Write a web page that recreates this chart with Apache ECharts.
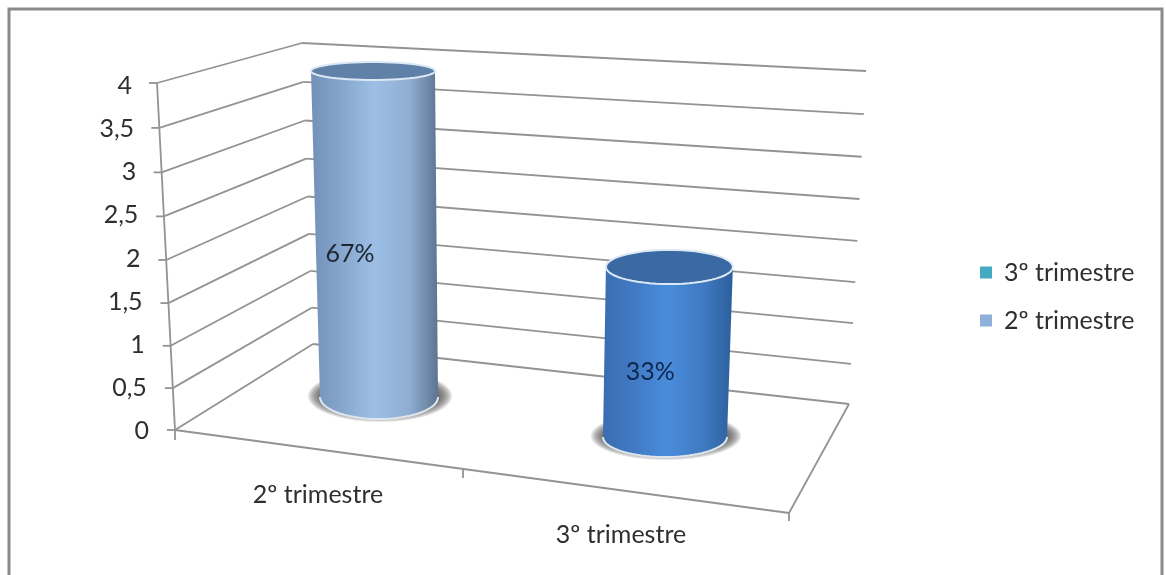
<!DOCTYPE html>
<html>
<head>
<meta charset="utf-8">
<style>html,body{margin:0;padding:0;background:#fff}#c{width:1166px;height:575px}</style>
<script src="https://cdn.jsdelivr.net/npm/echarts@6/dist/echarts.min.js"></script>
</head>
<body>
<div id="c"></div>
<script>
const categories = ['2º trimestre', '3º trimestre'];
const values = [4, 2];
const percentLabels = ['67%', '33%'];
const yTicks = [0, 0.5, 1, 1.5, 2, 2.5, 3, 3.5, 4];
const yTickLabels = ['0', '0,5', '1', '1,5', '2', '2,5', '3', '3,5', '4'];
const legendNames = ['3º trimestre', '2º trimestre'];

const FONT = 'Lato, "Open Sans", sans-serif';
const FONT_SIZE = 25;
const GRID_TOP = 83, GRID_BOTTOM = 430;
const LINE = '#939393';
const LEFT = [[175, 430], [157, 83]];
const BACK = [[313, 344], [302, 43]];
const RIGHT = [[849, 404], [866, 71]];
const FRONT_END = [789, 513];
const XTICKS = [[175, 430, 175, 440], [463, 470, 463, 478], [789, 513, 789, 521]];
const XLABEL_POS = [[318, 495], [621, 535]];
const CYL = [
  { base: [379, 397, 59, 22], top: [373, 71, 62, 9], labelDx: -26, labelDy: 20,
    stops: ['#7391b8', '#84a4cb', '#9dbfe6', '#8fadd0', '#5c7492'], cap: '#5f81a8' },
  { base: [665, 437, 62, 20], top: [674, 90, 65, 14], labelDx: -17, labelDy: 20,
    stops: ['#3a6db0', '#4179c2', '#4a8cdc', '#3f79c0', '#2c5f9c'], cap: '#3a69a4' }
];

// slight perspective along the value axis
function warp(t) { const k = -0.039; return t * (1 + k) / (1 + k * t); }
function mix(a, b, t) { return a + (b - a) * t; }
function along(seg, t) { return [mix(seg[0][0], seg[1][0], t), mix(seg[0][1], seg[1][1], t)]; }
function frac(api, cat, v) {
  const py = api.coord([cat, v])[1];
  return warp((GRID_BOTTOM - py) / (GRID_BOTTOM - GRID_TOP));
}
function seg(a, b) {
  return { type: 'line', shape: { x1: a[0], y1: a[1], x2: b[0], y2: b[1] },
    style: { stroke: LINE, lineWidth: 1.8 } };
}
function txt(x, y, s, align, color) {
  return { type: 'text', x: x, y: y,
    style: { text: s, fill: color || '#2f2f2f', font: FONT_SIZE + 'px ' + FONT, align: align, verticalAlign: 'middle' } };
}
function arc(cx, cy, rx, ry, a0, a1, n) {
  const pts = [];
  for (let i = 0; i <= n; i++) {
    const a = mix(a0, a1, i / n);
    pts.push([cx + rx * Math.cos(a), cy + ry * Math.sin(a)]);
  }
  return pts;
}

function renderWall(params, api) {
  const v = api.value(1), idx = params.dataIndex, t = frac(api, 0, v);
  const L = along(LEFT, t), B = along(BACK, t), R = along(RIGHT, t);
  const kids = [seg([L[0] - 8, L[1]], L), seg(L, B), seg(B, R)];
  // label positions follow the slanted axis
  kids.push(txt(mix(149, 132, v / 4), mix(431, 86, v / 4), yTickLabels[idx], 'right'));
  if (v === 0) {
    kids.push(seg(LEFT[0], FRONT_END), seg(RIGHT[0], FRONT_END), seg(LEFT[0], LEFT[1]));
    XTICKS.forEach(s => kids.push(seg([s[0], s[1]], [s[2], s[3]])));
  }
  return { type: 'group', children: kids };
}

function renderCategory(params, api) {
  const i = api.value(0), p = XLABEL_POS[i];
  return txt(p[0], p[1], categories[i], 'center');
}

function renderCylinder(params, api) {
  const i = api.value(0), v = api.value(1), c = CYL[i], t = frac(api, i, v);
  const b = c.base;
  const top = [0, 1, 2, 3].map(k => mix(b[k], c.top[k], t));
  const lower = arc(b[0], b[1], b[2], b[3], 0, Math.PI, 40);
  const upper = arc(top[0], top[1], top[2], top[3], Math.PI, 2 * Math.PI, 40);
  const grad = new echarts.graphic.LinearGradient(0, 0, 1, 0,
    [0, 0.22, 0.5, 0.78, 1].map((o, k) => ({ offset: o, color: c.stops[k] })));
  const shadow = [];
  for (let s = 0; s < 9; s++) {
    shadow.push({ type: 'polygon',
      shape: { points: arc(b[0] + 1, b[1] - 1, b[2] + 13 - s * 1.5, b[3] + 4 - s, 0, 2 * Math.PI, 60) },
      style: { fill: 'rgba(70,70,70,0.14)' } });
  }
  return {
    type: 'group',
    children: shadow.concat([
      { type: 'polygon', shape: { points: upper.concat(lower) }, style: { fill: grad } },
      { type: 'polyline', shape: { points: lower }, style: { stroke: '#dfe5ec', lineWidth: 2, fill: null } },
      { type: 'polygon', shape: { points: arc(top[0], top[1], top[2], top[3], 0, 2 * Math.PI, 60) },
        style: { fill: c.cap, stroke: '#dce8f4', lineWidth: 2 } },
      txt((top[0] + b[0]) / 2 + c.labelDx, (top[1] + b[1]) / 2 + c.labelDy, percentLabels[i], 'center',
        i === 0 ? '#1d2733' : '#10284d')
    ])
  };
}

const chart = echarts.init(document.getElementById('c'), null, { renderer: 'canvas' });
chart.setOption({
  animation: false,
  backgroundColor: '#ffffff',
  grid: { left: 175, right: 300, top: GRID_TOP, height: GRID_BOTTOM - GRID_TOP, containLabel: false },
  xAxis: { type: 'category', data: categories, show: false },
  yAxis: { type: 'value', min: 0, max: 4, interval: 0.5, show: false },
  legend: {
    orient: 'vertical', left: 975, top: 255, itemGap: 23, itemWidth: 12, itemHeight: 12,
    icon: 'rect', selectedMode: false, data: legendNames,
    textStyle: { fontFamily: FONT, fontSize: FONT_SIZE, color: '#2f2f2f', padding: [0, 0, 0, 7] }
  },
  graphic: [{
    type: 'rect', z: -10, shape: { x: 9, y: 9, width: 1153, height: 600 },
    style: { fill: '#ffffff', stroke: '#8a8a8a', lineWidth: 3 }, silent: true
  }],
  series: [
    { type: 'custom', name: 'paredes', renderItem: renderWall, silent: true, z: 1,
      encode: { x: 0, y: 1 }, data: yTicks.map(v => [0, v]) },
    { type: 'custom', name: 'categorias', renderItem: renderCategory, silent: true, z: 1,
      encode: { x: 0, y: 1 }, data: categories.map((c, i) => [i, 0]) },
    { type: 'custom', name: categories[0], renderItem: renderCylinder, silent: true, z: 3,
      itemStyle: { color: '#8fb0d8' }, encode: { x: 0, y: 1 }, data: [[0, values[0]]] },
    { type: 'custom', name: categories[1], renderItem: renderCylinder, silent: true, z: 3,
      itemStyle: { color: '#45a9c2' }, encode: { x: 0, y: 1 }, data: [[1, values[1]]] }
  ]
});
</script>
</body>
</html>
